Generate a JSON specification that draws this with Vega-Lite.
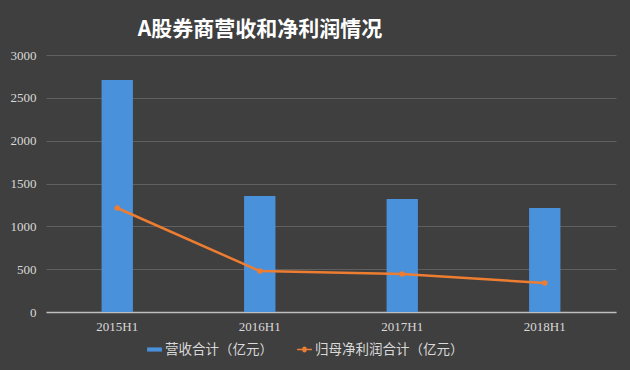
{
  "$schema": "https://vega.github.io/schema/vega-lite/v6.json",
  "autosize": "none",
  "width": 570,
  "height": 257,
  "padding": {"left": 46, "top": 55, "right": 14, "bottom": 58},
  "background": "#3f3f3f",
  "title": {
    "text": "A股券商营收和净利润情况",
    "font": "Noto Sans CJK SC",
    "fontSize": 21,
    "fontWeight": "bold",
    "color": "#ffffff",
    "anchor": "middle",
    "offset": 9,
    "dx": -71
  },
  "data": {
    "values": [
      {"period": "2015H1", "series": "营收合计（亿元）", "value": 2707},
      {"period": "2016H1", "series": "营收合计（亿元）", "value": 1354},
      {"period": "2017H1", "series": "营收合计（亿元）", "value": 1319},
      {"period": "2018H1", "series": "营收合计（亿元）", "value": 1213},
      {"period": "2015H1", "series": "归母净利润合计（亿元）", "value": 1214},
      {"period": "2016H1", "series": "归母净利润合计（亿元）", "value": 478},
      {"period": "2017H1", "series": "归母净利润合计（亿元）", "value": 443},
      {"period": "2018H1", "series": "归母净利润合计（亿元）", "value": 338}
    ]
  },
  "encoding": {
    "x": {
      "field": "period",
      "type": "nominal",
      "sort": null,
      "scale": {"paddingInner": 0.78, "paddingOuter": 0.39},
      "axis": {
        "title": null,
        "labelAngle": 0,
        "labelFont": "Liberation Serif",
        "labelFontSize": 13,
        "labelColor": "#d9d9d9",
        "labelPadding": 8,
        "ticks": false,
        "domainColor": "#bfbfbf",
        "domainWidth": 1.5,
        "grid": false
      }
    },
    "y": {
      "field": "value",
      "type": "quantitative",
      "scale": {"domain": [0, 3000]},
      "axis": {
        "title": null,
        "format": "d",
        "values": [0, 500, 1000, 1500, 2000, 2500, 3000],
        "labelFont": "Liberation Serif",
        "labelFontSize": 13,
        "labelColor": "#d9d9d9",
        "labelPadding": 10,
        "ticks": false,
        "domain": false,
        "gridColor": "#606060",
        "gridWidth": 1
      }
    },
    "color": {
      "field": "series",
      "type": "nominal",
      "scale": {
        "domain": ["营收合计（亿元）", "归母净利润合计（亿元）"],
        "range": ["#4a91dc", "#ed7d31"]
      },
      "legend": {
        "title": null,
        "orient": "none",
        "legendX": 101,
        "legendY": 287,
        "direction": "horizontal",
        "labelFont": "Noto Sans CJK SC",
        "labelFontSize": 13.5,
        "labelColor": "#d9d9d9",
        "labelOffset": 3,
        "columnPadding": 24,
        "symbolSize": 220,
        "symbolStrokeWidth": 0,
        "encode": {
          "symbols": {
            "update": {
              "shape": {"signal": "datum.label == '营收合计（亿元）' ? 'M-1,-0.28H1V0.28H-1Z' : 'M-1,-0.1H-0.3A0.3,0.3 0 0,1 0.3,-0.1H1V0.1H0.3A0.3,0.3 0 0,1 -0.3,0.1H-1Z'"}
            }
          }
        }
      }
    }
  },
  "layer": [
    {
      "transform": [{"filter": "datum.series == '营收合计（亿元）'"}],
      "mark": {"type": "bar"}
    },
    {
      "transform": [{"filter": "datum.series == '归母净利润合计（亿元）'"}],
      "mark": {"type": "line", "strokeWidth": 2.5, "point": {"size": 30, "filled": true}}
    }
  ],
  "config": {
    "view": {"stroke": null}
  }
}
